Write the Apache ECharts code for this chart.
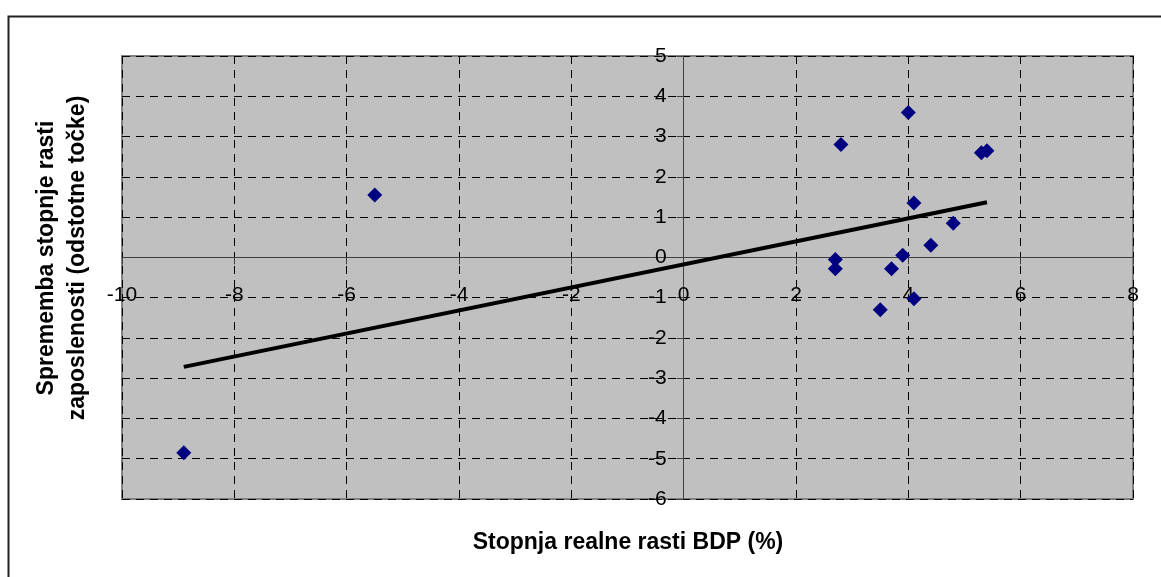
<!DOCTYPE html>
<html>
<head>
<meta charset="utf-8">
<script src="https://cdn.jsdelivr.net/npm/echarts@6/dist/echarts.min.js"></script>
<style>
html,body{margin:0;padding:0;background:#fff;}
#chart{width:1161px;height:577px;}
</style>
</head>
<body>
<div id="chart"></div>
<script>
// Data
var gdpGrowth = [-8.9, -5.5, 2.8, 4.0, 5.3, 5.4, 4.1, 4.8, 4.4, 3.9, 2.7, 2.7, 3.7, 4.1, 3.5];
var employmentChange = [-4.85, 1.55, 2.8, 3.6, 2.6, 2.65, 1.35, 0.85, 0.3, 0.05, -0.05, -0.28, -0.28, -1.03, -1.3];
var trendX = [-8.9, 5.4];
var trendY = [-2.72, 1.37];
var xTitle = 'Stopnja realne rasti BDP (%)';
var yTitle = 'Sprememba stopnje rasti\nzaposlenosti (odstotne točke)';

var points = gdpGrowth.map(function (x, i) { return [x, employmentChange[i]]; });
var trend = trendX.map(function (x, i) { return [x, trendY[i]]; });

var FONT = 'Liberation Sans, Arial, sans-serif';
var W = 1161, H = 577;
var G = { left: 122, top: 56, right: 28, bottom: 78 };
var X_MIN = -10, X_MAX = 8, Y_MIN = -6, Y_MAX = 5;
// offsets that bring each axis to the other axis's zero
var plotW = W - G.left - G.right, plotH = H - G.top - G.bottom;
var yAxisOffset = -plotW * (0 - X_MIN) / (X_MAX - X_MIN);
var xAxisOffset = -plotH * (0 - Y_MIN) / (Y_MAX - Y_MIN);

var chart = echarts.init(document.getElementById('chart'));
chart.setOption({
  animation: false,
  backgroundColor: '#ffffff',
  grid: {
    left: G.left, top: G.top, right: G.right, bottom: G.bottom,
    show: true, backgroundColor: '#C0C0C0', borderColor: '#808080', borderWidth: 2,
    containLabel: false, outerBoundsMode: 'none'
  },
  xAxis: {
    type: 'value', min: X_MIN, max: X_MAX, interval: 2, position: 'bottom', offset: xAxisOffset,
    axisLine: { onZero: false, lineStyle: { color: '#404040', width: 1 } },
    axisTick: { show: true, length: 7, lineStyle: { color: '#404040' } },
    axisLabel: { color: '#000', fontSize: 21, fontFamily: FONT, margin: 27 },
    splitLine: { show: true, lineStyle: { color: '#000', type: [8, 6], width: 1 } }
  },
  yAxis: {
    type: 'value', min: Y_MIN, max: Y_MAX, interval: 1, position: 'left', offset: yAxisOffset,
    axisLine: { onZero: false, lineStyle: { color: '#404040', width: 1 } },
    axisTick: { show: true, length: 7, lineStyle: { color: '#404040' } },
    axisLabel: { color: '#000', fontSize: 21, fontFamily: FONT, margin: 17 },
    splitLine: { show: true, lineStyle: { color: '#000', type: [8, 6], width: 1 } }
  },
  graphic: [
    { type: 'rect', z: -10, shape: { x: 8.5, y: 16.5, width: 1200, height: 620 },
      style: { fill: 'none', stroke: '#222', lineWidth: 2 } },
    { type: 'text', x: 628, y: 543,
      style: { text: xTitle, font: 'bold 23px ' + FONT, fill: '#000', textAlign: 'center', textVerticalAlign: 'middle' } },
    { type: 'text', x: 62, y: 258, rotation: Math.PI / 2,
      style: { text: yTitle, font: 'bold 23px ' + FONT, fill: '#000', textAlign: 'center', textVerticalAlign: 'middle', lineHeight: 31 } }
  ],
  series: [
    { type: 'line', data: trend, showSymbol: false, symbol: 'none',
      lineStyle: { color: '#000', width: 4 }, z: 3 },
    { type: 'scatter', data: points, symbol: 'diamond', symbolSize: 15,
      itemStyle: { color: '#000080', opacity: 1 }, z: 4 }
  ]
});
</script>
</body>
</html>
